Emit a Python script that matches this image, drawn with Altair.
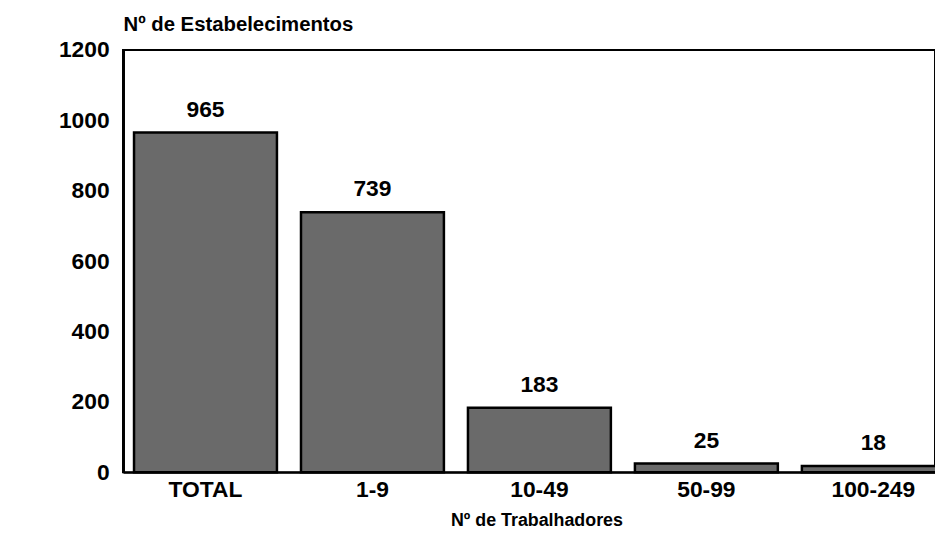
import altair as alt
import pandas as pd

categories = ["TOTAL", "1-9", "10-49", "50-99", "100-249"]
values = [965, 739, 183, 25, 18]
y_ticks = [0, 200, 400, 600, 800, 1000, 1200]

df = pd.DataFrame({"cat": categories, "val": values})

FONT = "Liberation Sans"

x_enc = alt.X(
    "cat:N",
    sort=categories,
    scale=alt.Scale(range=[0, 840], paddingInner=0.144, paddingOuter=0.066),
    axis=alt.Axis(
        title="Nº de Trabalhadores",
        labelAngle=0,
        labelFontSize=23,
        labelFont=FONT,
        labelFontWeight="bold",
        labelColor="black",
        labelPadding=6,
        ticks=False,
        domain=True,
        domainColor="black",
        domainWidth=2,
        titleFont=FONT,
        titleFontSize=18,
        titleFontWeight="bold",
        titleColor="black",
        titleX=417,
        titleY=54,
        titleAlign="center",
        titleBaseline="alphabetic",
    ),
)

y_enc = alt.Y(
    "val:Q",
    scale=alt.Scale(domain=[0, 1200]),
    axis=alt.Axis(
        title="Nº de Estabelecimentos",
        values=y_ticks,
        format="d",
        grid=False,
        ticks=False,
        labelFontSize=23,
        labelFont=FONT,
        labelFontWeight="bold",
        labelColor="black",
        labelPadding=14,
        domainColor="black",
        domainWidth=3,
        titleFont=FONT,
        titleFontSize=20.5,
        titleFontWeight="bold",
        titleColor="black",
        titleAngle=0,
        titleX=0,
        titleY=-20,
        titleAlign="left",
        titleBaseline="alphabetic",
    ),
)

bars = alt.Chart(df).mark_bar(color="#6a6a6a", stroke="black", strokeWidth=2.5).encode(
    x=x_enc, y=y_enc
)

labels = alt.Chart(df).mark_text(
    baseline="alphabetic", dy=-16, fontSize=23, font=FONT, fontWeight="bold", color="black"
).encode(x=alt.X("cat:N", sort=categories), y="val:Q", text="val:Q")

chart = (
    alt.layer(bars, labels)
    .properties(
        width=819,
        height=426,
        autosize=alt.AutoSizeParams(type="none"),
        padding={"left": 116, "top": 40, "right": 0, "bottom": 58},
    )
    .configure(background="white")
    .configure_view(stroke="black", strokeWidth=2)
)

chart.save("out.html", embed_options={"renderer": "svg", "actions": False})
